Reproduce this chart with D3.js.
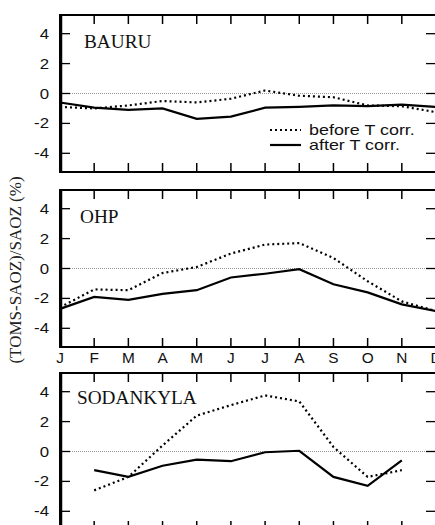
<!DOCTYPE html>
<html><head><meta charset="utf-8">
<script src="https://cdn.jsdelivr.net/npm/d3@7"></script>
<style>body{margin:0;background:#fff}svg{display:block}</style>
</head><body>
<svg id="c" width="435" height="525"></svg>
<script>
const months = ["J","F","M","A","M","J","J","A","S","O","N","D"];
const yTicks = [4, 2, 0, -2, -4];
const stations = ["BAURU", "OHP", "SODANKYLA"];
const bauruBefore = [-0.9,-1.0,-0.8,-0.5,-0.6,-0.35,0.2,-0.15,-0.25,-0.8,-0.85,-1.25];
const bauruAfter  = [-0.6,-0.95,-1.1,-1.0,-1.7,-1.55,-0.95,-0.9,-0.8,-0.85,-0.75,-0.9];
const ohpBefore   = [-2.6,-1.4,-1.45,-0.3,0.1,1.0,1.6,1.7,0.7,-0.85,-2.2,-2.85];
const ohpAfter    = [-2.7,-1.9,-2.1,-1.7,-1.45,-0.6,-0.35,-0.05,-1.05,-1.6,-2.4,-2.85];
const sodBefore   = [null,-2.6,-1.7,0.4,2.4,3.1,3.75,3.35,0.3,-1.7,-1.25,null];
const sodAfter    = [null,-1.25,-1.7,-0.95,-0.55,-0.65,-0.05,0.05,-1.7,-2.3,-0.6,null];
const legendLabels = ["before T corr.", "after T corr."];

const SANS = "Liberation Sans, Arial, sans-serif";
const SERIF = "Liberation Serif, Times New Roman, serif";
const svg = d3.select("#c");
const x = d3.scaleLinear().domain([0, 11]).range([60, 436]);
const panels = [
  {name: stations[0], before: bauruBefore, after: bauruAfter, top: 15, labelX: 84, labelY: 48},
  {name: stations[1], before: ohpBefore, after: ohpAfter, top: 190, labelX: 80, labelY: 223},
  {name: stations[2], before: sodBefore, after: sodAfter, top: 373, labelX: 77, labelY: 404}
];
const H = 157;

function stext(parent, tx, ty, str, font, size, sx, anchor, dy) {
  return parent.append("text")
    .attr("transform", `translate(${tx},${ty}) scale(${sx},1)`)
    .attr("text-anchor", anchor || "start")
    .attr("dy", dy || 0)
    .attr("font-family", font).attr("font-size", size).attr("fill", "#111").text(str);
}

panels.forEach((p, i) => {
  const y = d3.scaleLinear().domain([5.25, -5.25]).range([p.top, p.top + H]);
  const g = svg.append("g");
  g.append("line").attr("x1", x(0)).attr("x2", x(11)).attr("y1", y(0)).attr("y2", y(0))
    .attr("stroke", "#999").attr("stroke-width", 1).attr("stroke-dasharray", "1,1");
  d3.range(12).forEach(m => {
    g.append("line").attr("x1", x(m)).attr("x2", x(m)).attr("y1", p.top).attr("y2", p.top + 9)
      .attr("stroke", "#000").attr("stroke-width", 1.5);
    g.append("line").attr("x1", x(m)).attr("x2", x(m)).attr("y1", p.top + H).attr("y2", p.top + H - 9)
      .attr("stroke", "#000").attr("stroke-width", 1.5);
  });
  yTicks.forEach(t => {
    g.append("line").attr("x1", x(0)).attr("x2", x(0) + 10).attr("y1", y(t)).attr("y2", y(t))
      .attr("stroke", "#000").attr("stroke-width", 1.3);
    g.append("line").attr("x1", x(11)).attr("x2", x(11) - 10).attr("y1", y(t)).attr("y2", y(t))
      .attr("stroke", "#000").attr("stroke-width", 1.3);
    stext(g, 49, y(t), t, SANS, 14, 1.2, "end", "0.36em");
  });
  g.append("rect").attr("x", x(0)).attr("y", p.top).attr("width", x(11) - x(0)).attr("height", H)
    .attr("fill", "none").attr("stroke", "#000").attr("stroke-width", 2);
  g.append("line").attr("x1", x(0) + 1.5).attr("x2", x(0) + 1.5).attr("y1", p.top).attr("y2", p.top + H)
    .attr("stroke", "#000").attr("stroke-width", 1.5);
  const line = d3.line().defined(d => d != null).x((d, k) => x(k)).y(d => y(d));
  g.append("path").datum(p.before).attr("d", line).attr("fill", "none")
    .attr("stroke", "#000").attr("stroke-width", 2.2).attr("stroke-dasharray", "2,3");
  g.append("path").datum(p.after).attr("d", line).attr("fill", "none")
    .attr("stroke", "#000").attr("stroke-width", 2.2);
  stext(g, p.labelX, p.labelY, p.name, SERIF, 18, 1.07);
  if (i === 0) {
    [0, 1].forEach(k => {
      const ly = 130 + k * 15;
      g.append("line").attr("x1", 270).attr("x2", 301).attr("y1", ly).attr("y2", ly)
        .attr("stroke", "#000").attr("stroke-width", 2.2).attr("stroke-dasharray", k === 0 ? "2,3" : null);
      stext(g, 309, ly, legendLabels[k], SANS, 14, 1.28, "start", "0.36em");
    });
  }
});

months.forEach((m, k) => {
  stext(svg, x(k), 358, m, SANS, 14, 1.1, "middle", "0.36em");
});

svg.append("text").attr("transform", "translate(21,270) rotate(-90)")
  .attr("text-anchor", "middle").attr("font-family", SERIF)
  .attr("font-size", 17).attr("fill", "#222").text("(TOMS-SAOZ)/SAOZ (%)");
</script>
</body></html>
